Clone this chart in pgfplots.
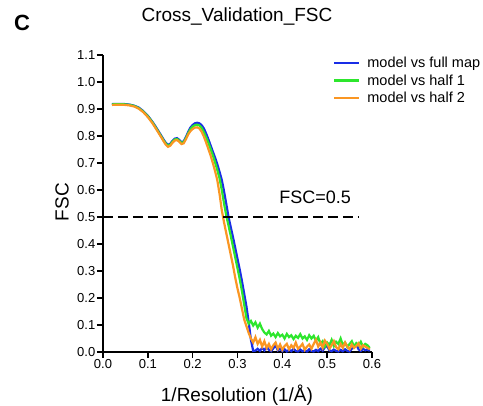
\documentclass[border=0pt]{standalone}
\usepackage{pgfplots}
\pgfplotsset{compat=1.18}
\usepackage{fontspec}
\setmainfont{Liberation Sans}

\definecolor{fscblue}{RGB}{25,45,230}
\definecolor{fscgreen}{RGB}{45,230,45}
\definecolor{fscorange}{RGB}{250,150,35}

\begin{document}
\begin{tikzpicture}
\path[use as bounding box] (-103pt,-54pt) rectangle (380pt,352pt);
\begin{axis}[
    scale only axis,
    width=269pt, height=297pt,
    xmin=0, xmax=0.6, ymin=0, ymax=1.1,
    enlargelimits=false,
    axis lines=left,
    axis line style={-, line width=2.2pt},
    xtick={0,0.1,0.2,0.3,0.4,0.5,0.6},
    ytick={0,0.1,0.2,0.3,0.4,0.5,0.6,0.7,0.8,0.9,1.0,1.1},
    tick align=outside,
    major tick length=6pt,
    tick style={black, line width=1.6pt},
    ticklabel style={font=\fontsize{13}{15}\selectfont, inner sep=1.5pt},
    /pgf/number format/assume math mode=true,
    /pgf/number format/.cd, fixed, fixed zerofill, precision=1, /pgfplots/.cd,
    title={Cross\_Validation\_FSC},
    title style={at={(axis description cs:0.498,1.108)}, anchor=center, font=\fontsize{19}{22}\selectfont},
    xlabel={1/Resolution (1/Å)},
    xlabel style={at={(axis description cs:0.498,-0.145)}, anchor=center, font=\fontsize{19}{22}\selectfont},
    ylabel={FSC},
    ylabel style={at={(axis description cs:-0.152,0.505)}, anchor=center, font=\fontsize{19}{22}\selectfont},
    legend style={at={(axis description cs:0.855,0.997)}, anchor=north west, draw=none, fill=none,
        font=\fontsize{14.5}{16}\selectfont, row sep=3.5pt, column sep=6pt, inner sep=0pt,
        nodes={inner sep=1pt}},
    legend cell align=left,
    legend image code/.code={\draw[#1] (0pt,0pt) -- (25pt,0pt);},
    clip=false,
  ]
  \addplot[fscblue, line width=2.2pt] coordinates {
    (0.02,0.918)(0.03,0.919)(0.04,0.919)(0.05,0.918)(0.06,0.916)(0.07,0.912)(0.08,0.905)
    (0.09,0.892)(0.10,0.875)(0.11,0.853)(0.12,0.828)(0.13,0.801)(0.135,0.787)(0.14,0.775)
    (0.145,0.767)(0.15,0.771)(0.155,0.782)(0.16,0.790)(0.165,0.792)(0.17,0.786)(0.175,0.777)
    (0.18,0.780)(0.185,0.796)(0.19,0.815)(0.195,0.831)(0.20,0.841)(0.205,0.847)(0.21,0.849)
    (0.215,0.847)(0.22,0.840)(0.225,0.828)(0.23,0.809)(0.235,0.788)(0.24,0.765)(0.245,0.742)
    (0.25,0.720)(0.255,0.695)(0.26,0.667)(0.265,0.637)(0.27,0.595)(0.275,0.548)(0.28,0.500)
    (0.285,0.462)(0.29,0.425)(0.295,0.385)(0.30,0.345)(0.305,0.305)(0.31,0.262)(0.315,0.215)
    (0.32,0.168)(0.325,0.110)(0.33,0.045)(0.335,0.004)(0.34,0.005)(0.345,0.012)(0.35,0.004)
    (0.355,0.015)(0.36,0.006)(0.365,0.020)(0.37,0.008)(0.375,0.003)(0.38,0.014)(0.385,0.025)
    (0.39,0.006)(0.395,0.012)(0.40,0.003)(0.405,0.010)(0.41,0.002)(0.415,0.008)(0.42,0.003)
    (0.425,0.012)(0.43,0.004)(0.435,0.002)(0.44,0.009)(0.445,0.003)(0.45,0.006)(0.455,0.002)
    (0.46,0.010)(0.465,0.004)(0.47,0.002)(0.475,0.008)(0.48,0.003)(0.485,0.012)(0.49,0.005)
    (0.495,0.018)(0.50,0.022)(0.505,0.006)(0.51,0.003)(0.515,0.009)(0.52,0.004)(0.525,0.002)
    (0.53,0.008)(0.535,0.003)(0.54,0.010)(0.545,0.004)(0.55,0.002)(0.555,0.012)(0.56,0.020)
    (0.565,0.028)(0.57,0.010)(0.575,0.004)(0.58,0.012)(0.585,0.006)(0.59,0.010)(0.595,0.004)
  };
  \addlegendentry{model vs full map}
  \addplot[fscgreen, line width=2.2pt] coordinates {
    (0.02,0.917)(0.03,0.918)(0.04,0.918)(0.05,0.917)(0.06,0.915)(0.07,0.911)(0.08,0.903)
    (0.09,0.890)(0.10,0.873)(0.11,0.851)(0.12,0.825)(0.13,0.798)(0.135,0.784)(0.14,0.772)
    (0.145,0.764)(0.15,0.768)(0.155,0.779)(0.16,0.787)(0.165,0.789)(0.17,0.783)(0.175,0.774)
    (0.18,0.777)(0.185,0.792)(0.19,0.810)(0.195,0.825)(0.20,0.835)(0.205,0.840)(0.21,0.842)
    (0.215,0.839)(0.22,0.830)(0.225,0.814)(0.23,0.795)(0.235,0.775)(0.24,0.752)(0.245,0.728)
    (0.25,0.702)(0.255,0.674)(0.26,0.643)(0.265,0.600)(0.27,0.550)(0.275,0.505)(0.28,0.468)
    (0.285,0.430)(0.29,0.390)(0.295,0.350)(0.30,0.310)(0.305,0.270)(0.31,0.225)(0.315,0.175)
    (0.32,0.125)(0.325,0.105)(0.33,0.115)(0.335,0.098)(0.34,0.110)(0.345,0.090)(0.35,0.105)
    (0.355,0.085)(0.36,0.072)(0.365,0.065)(0.37,0.078)(0.375,0.060)(0.38,0.068)(0.385,0.055)
    (0.39,0.070)(0.395,0.058)(0.40,0.064)(0.405,0.050)(0.41,0.067)(0.415,0.055)(0.42,0.062)
    (0.425,0.048)(0.43,0.060)(0.435,0.052)(0.44,0.066)(0.445,0.050)(0.45,0.058)(0.455,0.045)
    (0.46,0.062)(0.465,0.050)(0.47,0.060)(0.475,0.042)(0.48,0.055)(0.485,0.030)(0.49,0.040)
    (0.495,0.020)(0.50,0.035)(0.505,0.025)(0.51,0.045)(0.515,0.022)(0.52,0.038)(0.525,0.030)
    (0.53,0.050)(0.535,0.025)(0.54,0.035)(0.545,0.018)(0.55,0.030)(0.555,0.040)(0.56,0.020)
    (0.565,0.033)(0.57,0.025)(0.575,0.038)(0.58,0.020)(0.585,0.030)(0.59,0.025)(0.595,0.015)
  };
  \addlegendentry{model vs half 1}
  \addplot[fscorange, line width=2.2pt] coordinates {
    (0.02,0.915)(0.03,0.916)(0.04,0.916)(0.05,0.915)(0.06,0.913)(0.07,0.909)(0.08,0.901)
    (0.09,0.888)(0.10,0.870)(0.11,0.848)(0.12,0.822)(0.13,0.795)(0.135,0.781)(0.14,0.768)
    (0.145,0.760)(0.15,0.764)(0.155,0.775)(0.16,0.783)(0.165,0.785)(0.17,0.779)(0.175,0.770)
    (0.18,0.773)(0.185,0.788)(0.19,0.806)(0.195,0.818)(0.20,0.826)(0.205,0.831)(0.21,0.832)
    (0.215,0.828)(0.22,0.816)(0.225,0.798)(0.23,0.776)(0.235,0.752)(0.24,0.728)(0.245,0.700)
    (0.25,0.670)(0.255,0.636)(0.26,0.585)(0.265,0.525)(0.27,0.480)(0.275,0.440)(0.28,0.400)
    (0.285,0.360)(0.29,0.320)(0.295,0.275)(0.30,0.235)(0.305,0.200)(0.31,0.160)(0.315,0.120)
    (0.32,0.095)(0.325,0.070)(0.33,0.050)(0.335,0.035)(0.34,0.055)(0.345,0.030)(0.35,0.045)
    (0.355,0.020)(0.36,0.040)(0.365,0.015)(0.37,0.030)(0.375,0.010)(0.38,0.025)(0.385,0.035)
    (0.39,0.012)(0.395,0.028)(0.40,0.008)(0.405,0.022)(0.41,0.030)(0.415,0.010)(0.42,0.025)
    (0.425,0.015)(0.43,0.035)(0.435,0.012)(0.44,0.020)(0.445,0.030)(0.45,0.008)(0.455,0.020)
    (0.46,0.028)(0.465,0.012)(0.47,0.030)(0.475,0.045)(0.48,0.020)(0.485,0.035)(0.49,0.015)
    (0.495,0.042)(0.50,0.030)(0.505,0.012)(0.51,0.025)(0.515,0.040)(0.52,0.018)(0.525,0.010)
    (0.53,0.030)(0.535,0.015)(0.54,0.035)(0.545,0.020)(0.55,0.010)(0.555,0.028)(0.56,0.015)
    (0.565,0.022)(0.57,0.032)(0.575,0.012)(0.58,0.025)(0.585,0.020)(0.59,0.015)(0.595,0.010)
  };
  \addlegendentry{model vs half 2}
  \addplot[black, line width=2.2pt, dash pattern=on 10pt off 5pt, forget plot] coordinates {(0,0.5) (0.57,0.5)};
  \node[font=\fontsize{18}{21}\selectfont] at (axis cs:0.473,0.572) {FSC=0.5};
  \node[font=\fontsize{22}{26}\selectfont\bfseries] at (axis description cs:-0.301,1.108) {C};
\end{axis}
\end{tikzpicture}
\end{document}
